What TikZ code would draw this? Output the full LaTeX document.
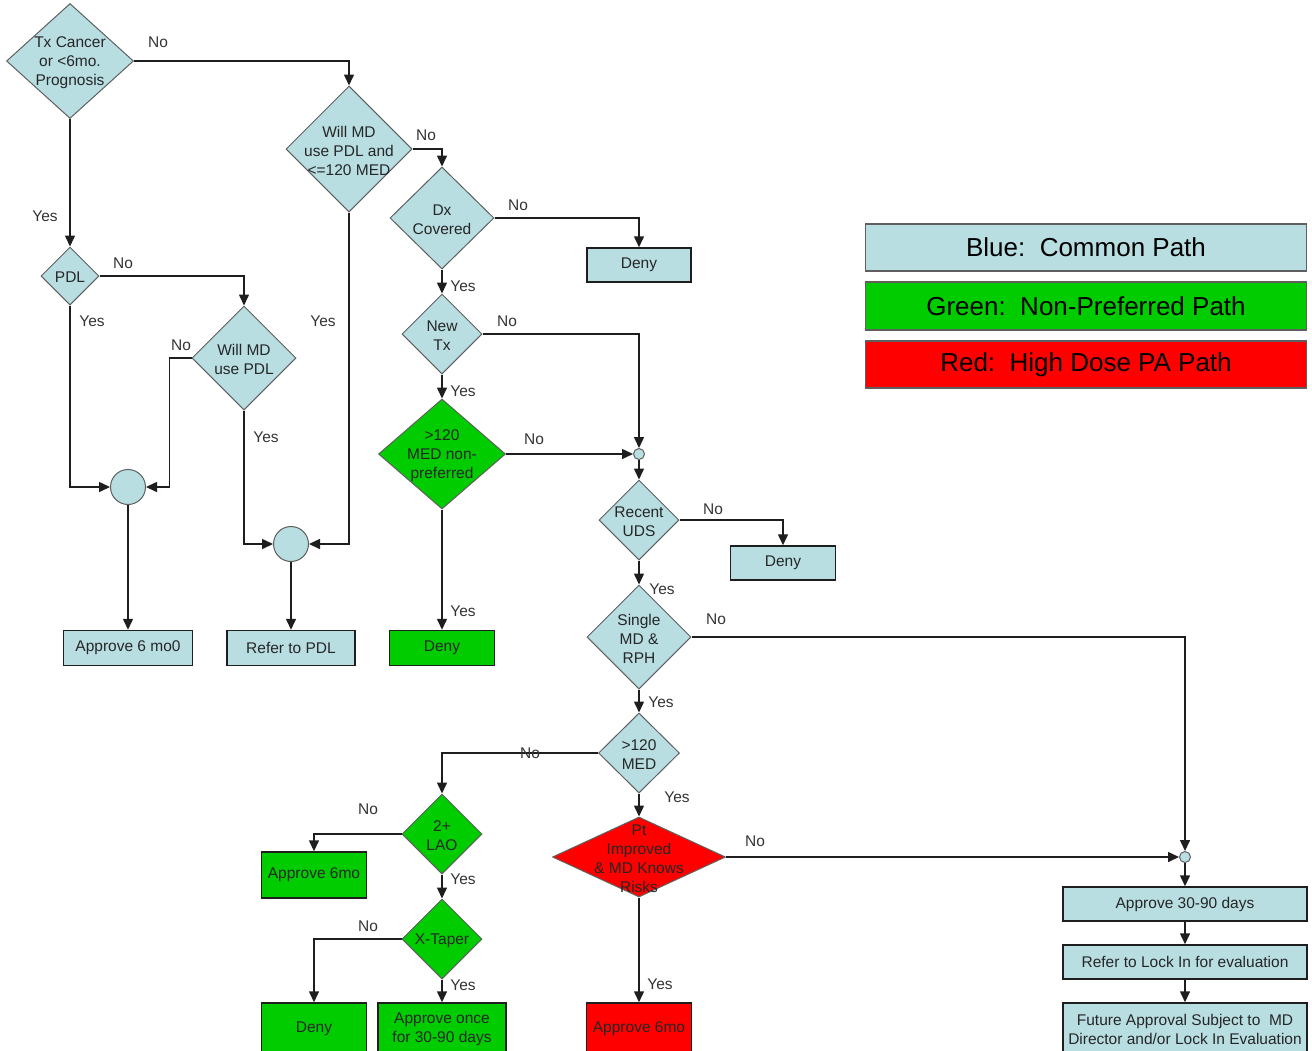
\documentclass[tikz,border=0pt]{standalone}
\usepackage{fontspec}
\setmainfont{Liberation Sans}
\usetikzlibrary{shapes.geometric,arrows.meta}
\definecolor{pathblue}{RGB}{184,222,226}
\definecolor{pathgreen}{RGB}{0,204,0}
\definecolor{pathred}{RGB}{255,0,0}
\definecolor{edgegray}{RGB}{95,95,95}
\definecolor{linedark}{RGB}{30,30,30}
\newcommand{\flowfont}{\fontsize{15.5}{19}\selectfont}
\tikzset{
  flowarrow/.style={-{Triangle[length=11pt,width=10pt]}, line width=1.5pt, draw=linedark},
  decision/.style={diamond, draw=edgegray, line width=1pt, fill=pathblue, inner sep=0pt},
  decision2/.style={decision, fill=pathgreen},
  decision3/.style={decision, fill=pathred},
  dtext/.style={align=center, font=\flowfont, text=black!85, inner sep=0pt, yshift=-1.5pt},
  stepbox/.style={draw=linedark, line width=1.5pt, fill=pathblue, align=center, font=\flowfont, text=black!85, inner sep=0pt},
  stepbox2/.style={stepbox, fill=pathgreen},
  stepbox3/.style={stepbox, fill=pathred},
  joint/.style={circle, draw=edgegray, line width=1pt, fill=pathblue, inner sep=0pt},
  relabel/.style={font=\flowfont, text=black!80, inner sep=0pt},
  legend/.style={draw=edgegray, line width=1.5pt, minimum width=441pt, font=\fontsize{26}{30}\selectfont, inner sep=0pt}
}
\begin{document}
\begin{tikzpicture}[x=1pt, y=-1pt]
  \useasboundingbox (0,0) rectangle (1312,1050);
  \clip (0,0) rectangle (1312,1050);

  % legend
  \node[legend, fill=pathblue, minimum height=47pt] (keyblue) at (1086,247.5) {Blue:\ \ Common Path};
  \node[legend, fill=pathgreen, minimum height=48pt] (keygreen) at (1086,306) {Green:\ \ Non-Preferred Path};
  \node[legend, fill=pathred, minimum height=47pt] (keyred) at (1086,364.5) {Red:\ \ High Dose PA Path};

  % decisions
  \node[decision, minimum width=127pt, minimum height=115pt, label={[dtext]center:Tx Cancer\\or <6mo.\\Prognosis}] (tx) at (70,61) {};
  \node[decision, minimum width=58pt, minimum height=58pt, label={[dtext]center:PDL}] (pdl) at (70,276) {};
  \node[decision, minimum width=104pt, minimum height=104pt, label={[dtext]center:Will MD\\use PDL}] (willpdl) at (244,358) {};
  \node[decision, minimum width=126pt, minimum height=126pt, label={[dtext]center:Will MD\\use PDL and\\<=120 MED}] (willmed) at (349,149) {};
  \node[decision, minimum width=104pt, minimum height=102pt, label={[dtext]center:Dx\\Covered}] (dx) at (442,218) {};
  \node[decision, minimum width=80pt, minimum height=80pt, label={[dtext]center:New\\Tx}] (newtx) at (442,334) {};
  \node[decision2, minimum width=127pt, minimum height=110pt, label={[dtext]center:>120\\MED non-\\preferred}] (np) at (442,454) {};
  \node[decision, minimum width=80pt, minimum height=80pt, label={[dtext]center:Recent\\UDS}] (uds) at (639,520) {};
  \node[decision, minimum width=104pt, minimum height=104pt, label={[dtext]center:Single\\MD \&\\RPH}] (single) at (639,637) {};
  \node[decision, minimum width=81pt, minimum height=80pt, label={[dtext]center:>120\\MED}] (med) at (639,753) {};
  \node[decision2, minimum width=80pt, minimum height=80pt, label={[dtext]center:2+\\LAO}] (lao) at (442,834) {};
  \node[decision2, minimum width=80pt, minimum height=80pt, label={[dtext]center:X-Taper}] (xtaper) at (442,939) {};
  \node[decision3, minimum width=173pt, minimum height=80pt, label={[dtext]center:Pt\\Improved\\\& MD Knows\\Risks}] (pt) at (639,857) {};

  % joins
  \node[joint, minimum size=35pt] (c1) at (128,487) {};
  \node[joint, minimum size=35pt] (c2) at (291,544) {};
  \node[joint, minimum size=11pt] (c3) at (639,454) {};
  \node[joint, minimum size=11pt] (c4) at (1185,857) {};

  % outcomes
  \node[stepbox, minimum width=104pt, minimum height=34pt] (deny1) at (639,265) {Deny};
  \node[stepbox, minimum width=129pt, minimum height=35pt] (approve6mo0) at (128,648) {Approve 6 mo0};
  \node[stepbox, minimum width=128pt, minimum height=35pt] (referpdl) at (291,648) {Refer to PDL};
  \node[stepbox2, minimum width=105pt, minimum height=35pt] (denyg1) at (442,648) {Deny};
  \node[stepbox, minimum width=105pt, minimum height=34pt] (deny2) at (783,563) {Deny};
  \node[stepbox2, minimum width=105pt, minimum height=46pt] (approve6mog) at (314,875) {Approve 6mo};
  \node[stepbox2, minimum width=105pt, minimum height=52pt] (denyg2) at (314,1029) {Deny};
  \node[stepbox2, minimum width=128pt, minimum height=52pt] (once) at (442,1029) {Approve once\\for 30-90 days};
  \node[stepbox3, minimum width=105pt, minimum height=52pt] (approve6mor) at (639,1029) {Approve 6mo};
  \node[stepbox, minimum width=244pt, minimum height=34pt] (app3090) at (1185,904) {Approve 30-90 days};
  \node[stepbox, minimum width=244pt, minimum height=34pt] (lockin) at (1185,962) {Refer to Lock In for evaluation};
  \node[stepbox, minimum width=244pt, minimum height=52pt] (future) at (1185,1029) {Future Approval Subject to\ \ MD\\Director and/or Lock In Evaluation};

  % connectors
  \draw[flowarrow] (tx.east) -| (willmed.north);
  \draw[flowarrow] (tx) -- (pdl);
  \draw[flowarrow] (pdl.east) -| (willpdl.north);
  \draw[flowarrow] (pdl.south) |- (c1.west);
  \draw[flowarrow] (willpdl.west) -- ++(-22,0) |- (c1.east);
  \draw[flowarrow] (willpdl.south) |- (c2.west);
  \draw[flowarrow] (willmed.south) |- (c2.east);
  \draw[flowarrow] (c1) -- (approve6mo0);
  \draw[flowarrow] (c2) -- (referpdl);
  \draw[flowarrow] (willmed.east) -| (dx.north);
  \draw[flowarrow] (dx.east) -| (deny1.north);
  \draw[flowarrow] (dx) -- (newtx);
  \draw[flowarrow] (newtx.east) -| (c3.north);
  \draw[flowarrow] (newtx) -- (np);
  \draw[flowarrow] (np) -- (c3);
  \draw[flowarrow] (np) -- (denyg1);
  \draw[flowarrow] (c3) -- (uds);
  \draw[flowarrow] (uds.east) -| (deny2.north);
  \draw[flowarrow] (uds) -- (single);
  \draw[flowarrow] (single.east) -| (c4.north);
  \draw[flowarrow] (single) -- (med);
  \draw[flowarrow] (med.west) -| (lao.north);
  \draw[flowarrow] (med) -- (pt);
  \draw[flowarrow] (lao.west) -| (approve6mog.north);
  \draw[flowarrow] (lao) -- (xtaper);
  \draw[flowarrow] (xtaper.west) -| (denyg2.north);
  \draw[flowarrow] (xtaper) -- (once);
  \draw[flowarrow] (pt) -- (c4);
  \draw[flowarrow] (pt) -- (approve6mor);
  \draw[flowarrow] (c4) -- (app3090);
  \draw[flowarrow] (app3090) -- (lockin);
  \draw[flowarrow] (lockin) -- (future);

  % yes / no labels
  \node[relabel] (txno) at (158,42) {No};
  \node[relabel] (txyes) at (45,216) {Yes};
  \node[relabel] (pdlno) at (123,263) {No};
  \node[relabel] (pdlyes) at (92,321) {Yes};
  \node[relabel] (willpdlno) at (181,345) {No};
  \node[relabel] (willpdlyes) at (266,437) {Yes};
  \node[relabel] (willmedno) at (426,135) {No};
  \node[relabel] (willmedyes) at (323,321) {Yes};
  \node[relabel] (dxno) at (518,205) {No};
  \node[relabel] (dxyes) at (463,286) {Yes};
  \node[relabel] (newtxno) at (507,321) {No};
  \node[relabel] (newtxyes) at (463,391) {Yes};
  \node[relabel] (npno) at (534,439) {No};
  \node[relabel] (npyes) at (463,611) {Yes};
  \node[relabel] (udsno) at (713,509) {No};
  \node[relabel] (udsyes) at (662,589) {Yes};
  \node[relabel] (singleno) at (716,619) {No};
  \node[relabel] (singleyes) at (661,702) {Yes};
  \node[relabel] (medno) at (530,753) {No};
  \node[relabel] (medyes) at (677,797) {Yes};
  \node[relabel] (laono) at (368,809) {No};
  \node[relabel] (laoyes) at (463,879) {Yes};
  \node[relabel] (xtaperno) at (368,926) {No};
  \node[relabel] (xtaperyes) at (463,985) {Yes};
  \node[relabel] (ptno) at (755,841) {No};
  \node[relabel] (ptyes) at (660,984) {Yes};
\end{tikzpicture}
\end{document}
